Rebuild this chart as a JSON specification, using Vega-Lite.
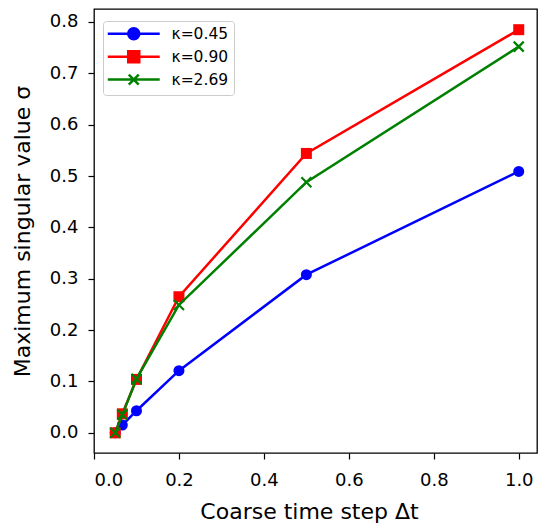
{
  "$schema": "https://vega.github.io/schema/vega-lite/v6.json",
  "width": 443,
  "height": 444,
  "autosize": "none",
  "padding": {"left": 94, "top": 9, "right": 1, "bottom": 75},
  "background": "white",
  "data": {
    "values": [
      {"series": "κ=0.45", "dt": 0.05, "sigma": 0.0},
      {"series": "κ=0.45", "dt": 0.0667, "sigma": 0.015},
      {"series": "κ=0.45", "dt": 0.1, "sigma": 0.043},
      {"series": "κ=0.45", "dt": 0.2, "sigma": 0.121},
      {"series": "κ=0.45", "dt": 0.5, "sigma": 0.308},
      {"series": "κ=0.45", "dt": 1.0, "sigma": 0.509},
      {"series": "κ=0.90", "dt": 0.05, "sigma": 0.0},
      {"series": "κ=0.90", "dt": 0.0667, "sigma": 0.037},
      {"series": "κ=0.90", "dt": 0.1, "sigma": 0.104},
      {"series": "κ=0.90", "dt": 0.2, "sigma": 0.265},
      {"series": "κ=0.90", "dt": 0.5, "sigma": 0.544},
      {"series": "κ=0.90", "dt": 1.0, "sigma": 0.785},
      {"series": "κ=2.69", "dt": 0.05, "sigma": 0.0},
      {"series": "κ=2.69", "dt": 0.0667, "sigma": 0.035},
      {"series": "κ=2.69", "dt": 0.1, "sigma": 0.105},
      {"series": "κ=2.69", "dt": 0.2, "sigma": 0.249},
      {"series": "κ=2.69", "dt": 0.5, "sigma": 0.488},
      {"series": "κ=2.69", "dt": 1.0, "sigma": 0.752}
    ]
  },
  "encoding": {
    "x": {
      "field": "dt", "type": "quantitative",
      "scale": {"domain": [0, 1.043], "nice": false, "zero": false},
      "axis": {"values": [0, 0.2, 0.4, 0.6, 0.8, 1.0], "format": ".1f", "title": "Coarse time step Δt", "labelPadding": 12, "titlePadding": 12, "titleX": 215}
    },
    "y": {
      "field": "sigma", "type": "quantitative",
      "scale": {"domain": [-0.0393, 0.8253], "nice": false, "zero": false},
      "axis": {"values": [0, 0.1, 0.2, 0.3, 0.4, 0.5, 0.6, 0.7, 0.8], "format": ".1f", "title": "Maximum singular value σ", "labelPadding": 10, "titlePadding": 15}
    }
  },
  "layer": [
    {
      "transform": [{"filter": "datum.series === 'κ=0.45'"}],
      "mark": {"type": "line", "strokeWidth": 2.5},
      "encoding": {
        "color": {
          "field": "series", "type": "nominal",
          "scale": {"domain": ["κ=0.45", "κ=0.90", "κ=2.69"], "range": ["#0000ff", "#ff0000", "#008000"]},
          "legend": {
            "title": null,
            "orient": "none",
            "legendX": 9,
            "legendY": 12,
            "padding": 5,
            "fillColor": "white",
            "strokeColor": "#cccccc",
            "cornerRadius": 3,
            "symbolSize": 144,
            "symbolStrokeWidth": 2.5,
            "symbolOffset": 18,
            "labelFontSize": 15.5,
            "labelFont": "DejaVu Sans",
            "labelColor": "black",
            "labelOffset": 30,
            "rowPadding": 0.9,
            "encode": {
              "symbols": {
                "update": {
                  "shape": {"signal": "datum.value === 'κ=0.45' ? 'M-4.33,0H4.33M0.92,0A0.92,0.92 0 1,1 -0.92,0A0.92,0.92 0 1,1 0.92,0Z' : datum.value === 'κ=0.90' ? 'M-4.33,0H4.33M-0.92,-0.92H0.92V0.92H-0.92Z' : 'M-4.33,0H4.33M-0.83,-0.83L0.83,0.83M-0.83,0.83L0.83,-0.83'"},
                  "fill": {"scale": "color", "field": "value"},
                  "stroke": {"scale": "color", "field": "value"},
                  "opacity": {"value": 1}
                }
              }
            }
          }
        }
      }
    },
    {
      "transform": [{"filter": "datum.series === 'κ=0.45'"}],
      "mark": {"type": "point", "shape": "circle", "filled": true, "color": "#0000ff", "size": 121, "opacity": 1}
    },
    {
      "transform": [{"filter": "datum.series === 'κ=0.90'"}],
      "mark": {"type": "line", "strokeWidth": 2.5},
      "encoding": {"color": {"field": "series", "type": "nominal"}}
    },
    {
      "transform": [{"filter": "datum.series === 'κ=0.90'"}],
      "mark": {"type": "point", "shape": "square", "filled": true, "color": "#ff0000", "size": 121, "opacity": 1}
    },
    {
      "transform": [{"filter": "datum.series === 'κ=2.69'"}],
      "mark": {"type": "line", "strokeWidth": 2.5},
      "encoding": {"color": {"field": "series", "type": "nominal"}}
    },
    {
      "transform": [{"filter": "datum.series === 'κ=2.69'"}],
      "mark": {"type": "point", "shape": "M-1,-1L1,1M-1,1L1,-1", "filled": false, "stroke": "#008000", "strokeWidth": 2.2, "size": 100, "opacity": 1}
    }
  ],
  "config": {
    "view": {"stroke": "black", "strokeWidth": 1.3},
    "font": "DejaVu Sans",
    "axis": {
      "grid": false,
      "domain": false,
      "ticks": true,
      "tickColor": "black",
      "tickSize": 6,
      "tickWidth": 1.2,
      "labelFont": "DejaVu Sans",
      "labelFontSize": 18,
      "labelColor": "black",
      "titleFont": "DejaVu Sans",
      "titleFontSize": 22,
      "titleFontWeight": "normal",
      "titleColor": "black"
    }
  }
}
